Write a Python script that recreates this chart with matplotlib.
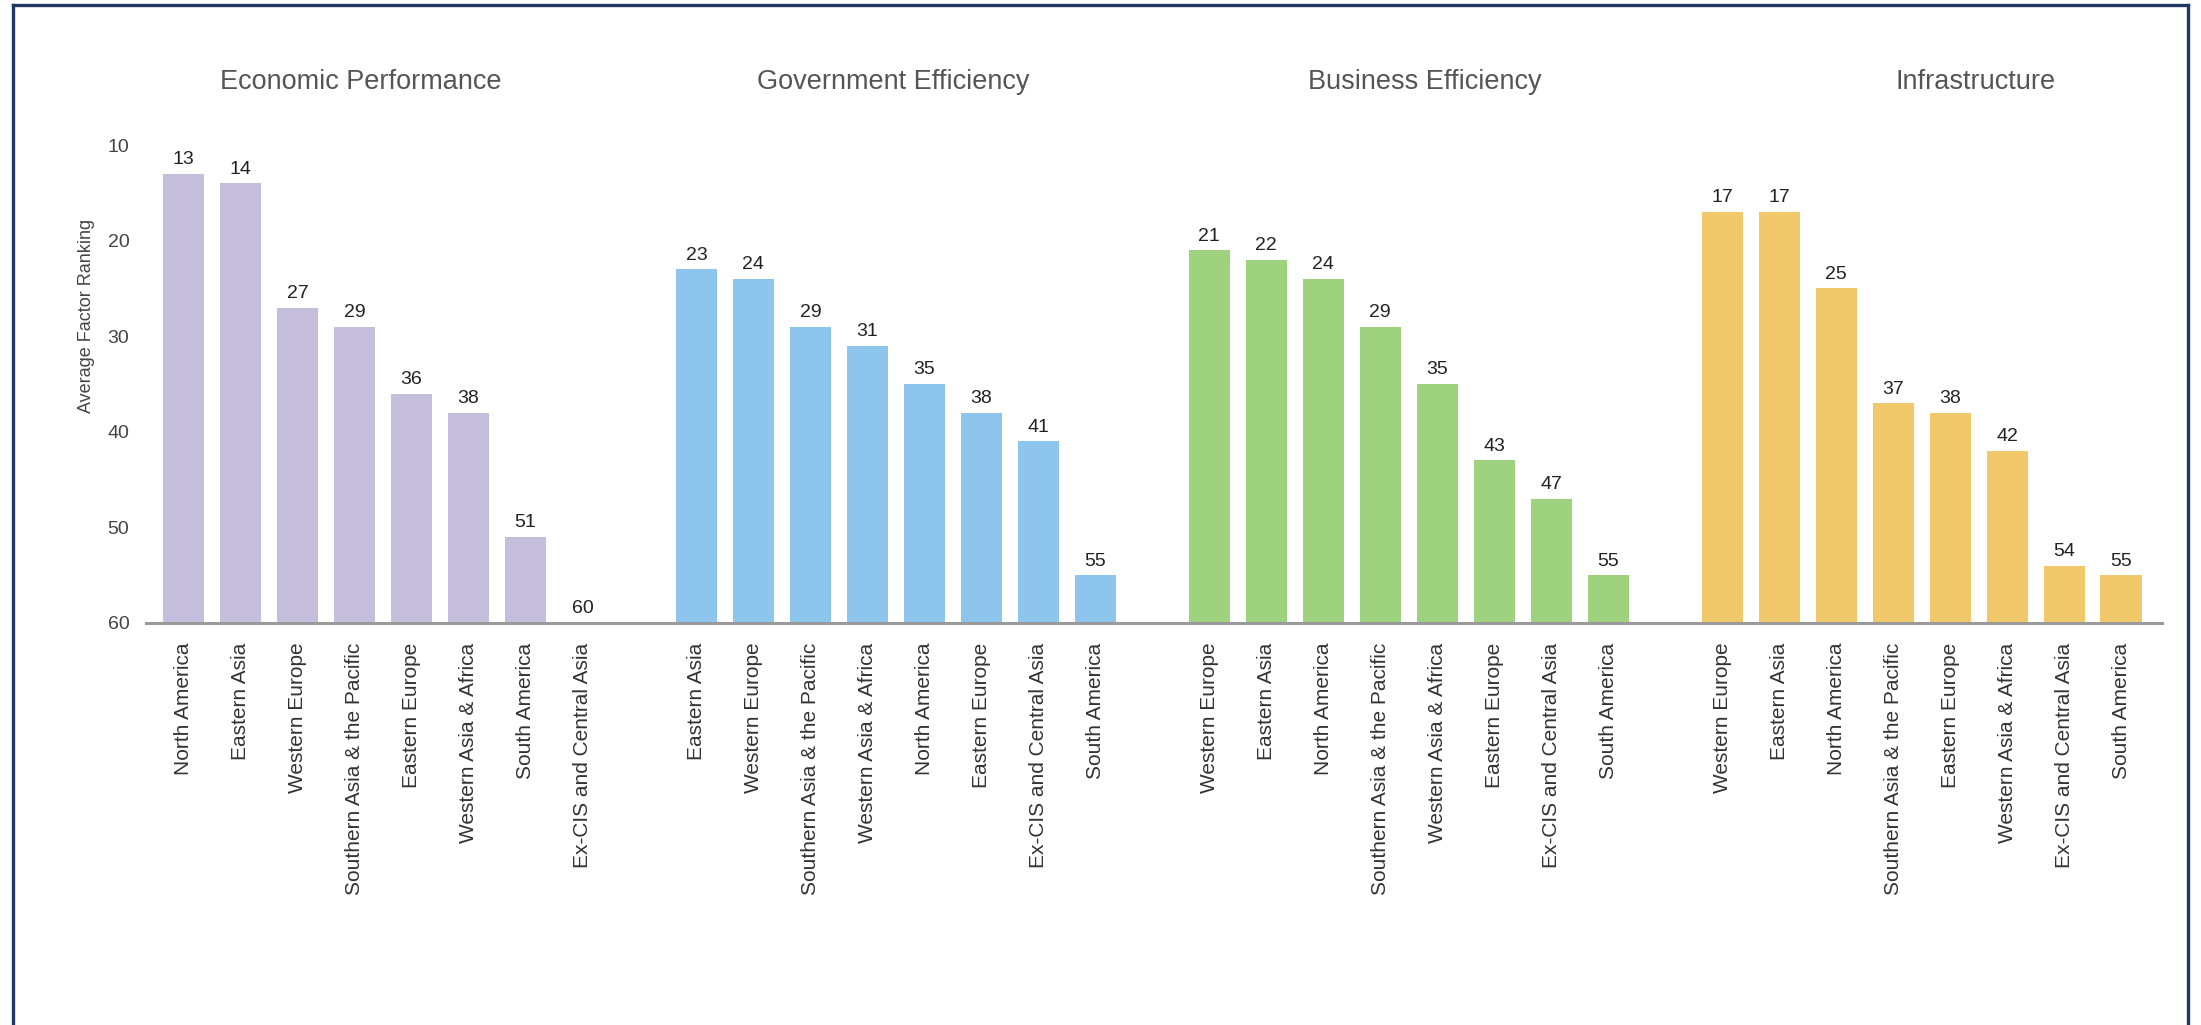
import matplotlib
matplotlib.use("Agg")
import matplotlib.pyplot as plt
from matplotlib.lines import Line2D
from matplotlib.transforms import blended_transform_factory

plt.rcParams['font.family'] = ['Liberation Sans', 'DejaVu Sans']

# Factor groups and their regional average rankings
factors = ["Economic Performance", "Government Efficiency", "Business Efficiency", "Infrastructure"]

econ_regions = ["North America", "Eastern Asia", "Western Europe", "Southern Asia & the Pacific",
                "Eastern Europe", "Western Asia & Africa", "South America", "Ex-CIS and Central Asia"]
econ_values = [13, 14, 27, 29, 36, 38, 51, 60]

gov_regions = ["Eastern Asia", "Western Europe", "Southern Asia & the Pacific", "Western Asia & Africa",
               "North America", "Eastern Europe", "Ex-CIS and Central Asia", "South America"]
gov_values = [23, 24, 29, 31, 35, 38, 41, 55]

bus_regions = ["Western Europe", "Eastern Asia", "North America", "Southern Asia & the Pacific",
               "Western Asia & Africa", "Eastern Europe", "Ex-CIS and Central Asia", "South America"]
bus_values = [21, 22, 24, 29, 35, 43, 47, 55]

infra_regions = ["Western Europe", "Eastern Asia", "North America", "Southern Asia & the Pacific",
                 "Eastern Europe", "Western Asia & Africa", "Ex-CIS and Central Asia", "South America"]
infra_values = [17, 17, 25, 37, 38, 42, 54, 55]

colors = ["#c4bedc", "#8dc5ed", "#9ed27e", "#f1c96b"]
y_ticks = [10, 20, 30, 40, 50, 60]
baseline = 60
title_x = [3.11, 12.45, 21.79, 31.45]

groups = [(econ_regions, econ_values), (gov_regions, gov_values),
          (bus_regions, bus_values), (infra_regions, infra_values)]

fig = plt.figure(figsize=(22.01, 10.25), dpi=100)
fig.patch.set_facecolor("white")
ax = fig.add_axes([0.0663, 0.3922, 0.916, 0.4663])

positions, labels = [], []
for g, (regions, values) in enumerate(groups):
    xs = [g * 9 + i for i in range(len(regions))]
    heights = [v - baseline for v in values]
    ax.bar(xs, heights, bottom=baseline, width=0.72, color=colors[g], zorder=2)
    for x, v in zip(xs, values):
        ax.annotate(str(v), (x, v), xytext=(0, 4), textcoords="offset points",
                    ha="center", va="bottom", fontsize=14, color="#222222", clip_on=False)
    positions += xs
    labels += regions

ax.set_ylim(60, 10)
ax.set_xlim(-0.66, 34.72)
ax.set_yticks(y_ticks)
ax.set_yticklabels([str(t) for t in y_ticks], fontsize=14, color="#444444")
ax.set_xticks(positions)
ax.set_xticklabels(labels, rotation=90, fontsize=15, color="#333333", va="top", ha="center")
ax.tick_params(axis="both", length=0)
ax.tick_params(axis="y", pad=12)
ax.tick_params(axis="x", pad=14)
for side in ["top", "right", "left"]:
    ax.spines[side].set_visible(False)
ax.spines["bottom"].set_color("#9a9a9a")
ax.spines["bottom"].set_linewidth(2.2)
ax.spines["bottom"].set_zorder(3)

trans = blended_transform_factory(ax.transData, fig.transFigure)
for tx, name in zip(title_x, factors):
    ax.text(tx, 0.92, name, transform=trans, ha="center", va="center",
            fontsize=19.5, color="#555555", clip_on=False)

fig.text(0.0395, 0.692, "Average Factor Ranking", rotation=90, ha="center", va="center",
         fontsize=13, color="#444444")

# Frame around the figure (left, top and right edges)
frame_color = "#203864"
fig.add_artist(Line2D([12.5 / 2201, 12.5 / 2201], [0, 1 - 5 / 1025], transform=fig.transFigure,
                      color=frame_color, linewidth=2.4))
fig.add_artist(Line2D([12.5 / 2201, 2188 / 2201], [1 - 5 / 1025, 1 - 5 / 1025], transform=fig.transFigure,
                      color=frame_color, linewidth=2.4))
fig.add_artist(Line2D([2188 / 2201, 2188 / 2201], [0, 1 - 5 / 1025], transform=fig.transFigure,
                      color=frame_color, linewidth=2.4))

fig.savefig("out.png", dpi=100, facecolor="white")
